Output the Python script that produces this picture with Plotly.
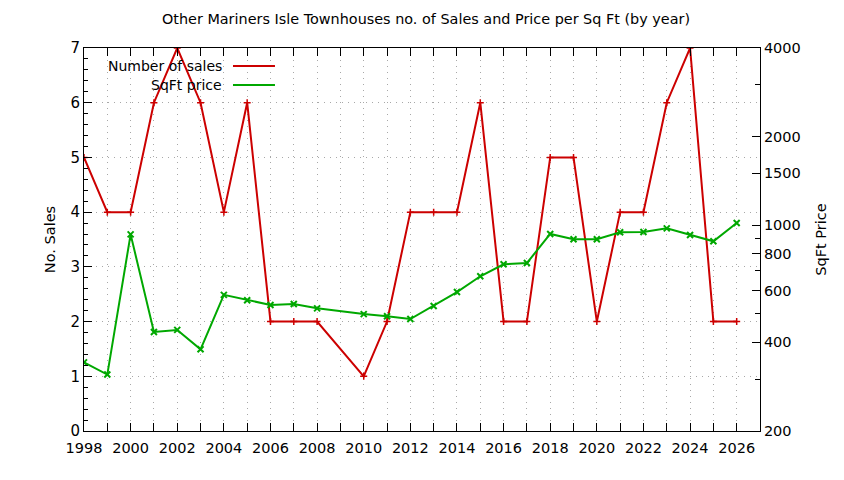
import plotly.graph_objects as go

# datos (2009 no tiene registro)
years = [1998, 1999, 2000, 2001, 2002, 2003, 2004, 2005, 2006, 2007, 2008,
         2010, 2011, 2012, 2013, 2014, 2015, 2016, 2017, 2018, 2019, 2020,
         2021, 2022, 2023, 2024, 2025, 2026]
num_sales = [5, 4, 4, 6, 7, 6, 4, 6, 2, 2, 2,
             1, 2, 4, 4, 4, 6, 2, 2, 5, 5, 2,
             4, 4, 6, 7, 2, 2]
sqft_price = [342, 311, 931, 434, 441, 379, 580, 556, 536, 540, 522,
              499, 491, 480, 532, 593, 671, 737, 744, 934, 896, 896,
              946, 948, 976, 926, 882, 1017]

y2_ticks = [200, 400, 600, 800, 1000, 1500, 2000, 4000]
y2_minor = [300, 500, 700, 900, 3000]

RED = "#CC0000"
GREEN = "#00A800"
FONT = "DejaVu Sans"
GRID = "#A8A8A8"
DOTS = "1px,5px"

fig = go.Figure()
fig.add_trace(go.Scatter(x=years, y=num_sales, mode="lines+markers", name="Number of sales",
                         line=dict(color=RED, width=2),
                         marker=dict(symbol="cross-thin", size=5, line=dict(color=RED, width=1.5))))
fig.add_trace(go.Scatter(x=years, y=sqft_price, mode="lines+markers", name="SqFt price", yaxis="y2",
                         line=dict(color=GREEN, width=2),
                         marker=dict(symbol="x-thin", size=6, line=dict(color=GREEN, width=2))))

# la pagina agrega ~8px de margen al body, se compensa aqui
fig.update_layout(
    width=836, height=472,
    margin=dict(l=76, r=84, t=40, b=49),
    paper_bgcolor="white", plot_bgcolor="white",
    showlegend=False,
    font=dict(family=FONT, size=13, color="black"),
    title=dict(text="Other Mariners Isle Townhouses no. of Sales and Price per Sq Ft (by year)",
               x=0.5, xanchor="center", y=0.977, yanchor="middle", font=dict(size=14.4)),
    xaxis=dict(range=[1998, 2027], tickmode="linear", tick0=1998, dtick=2,
               ticks="inside", ticklen=8, tickcolor="black",
               showline=True, linecolor="black", linewidth=1, mirror="allticks",
               showgrid=True, gridcolor=GRID, griddash=DOTS, gridwidth=1,
               minor=dict(dtick=1, ticks="inside", ticklen=5, tickcolor="black",
                          showgrid=True, gridcolor=GRID, griddash=DOTS),
               zeroline=False, tickfont=dict(size=14.5), ticklabelstandoff=4),
    yaxis=dict(range=[0, 7], tickmode="linear", dtick=1,
               ticks="inside", ticklen=8, tickcolor="black",
               showline=True, linecolor="black", linewidth=1,
               showgrid=True, gridcolor=GRID, griddash=DOTS,
               minor=dict(dtick=0.2, ticks="inside", ticklen=4, tickcolor="black", showgrid=False),
               zeroline=False, tickfont=dict(size=15),
               title=dict(text="No. Sales", standoff=11, font=dict(size=14.5))),
    yaxis2=dict(type="log", range=[2.30103, 3.60206], overlaying="y", side="right",
                tickmode="array", tickvals=y2_ticks, ticktext=[str(v) for v in y2_ticks],
                ticks="inside", ticklen=8, tickcolor="black",
                showline=True, linecolor="black", linewidth=1,
                showgrid=False, zeroline=False,
                minor=dict(tickmode="array", tickvals=y2_minor, ticks="inside", ticklen=5,
                           tickcolor="black", showgrid=False),
                tickfont=dict(size=14.5),
                title=dict(text="SqFt Price", standoff=16, font=dict(size=14.5))),
)

# leyenda estilo gnuplot: texto a la izquierda, muestra de linea a la derecha
legend_rows = [("Number of sales", RED, 0.953), ("SqFt price", GREEN, 0.9034)]
for label, color, yp in legend_rows:
    fig.add_annotation(x=0.207, y=yp, xref="paper", yref="paper", text=label,
                       showarrow=False, xanchor="right", yanchor="middle",
                       font=dict(size=14, color="black"))
    fig.add_shape(type="line", xref="paper", yref="paper", x0=0.2204, x1=0.2825, y0=yp, y1=yp,
                  line=dict(color=color, width=2))

fig.write_html("out.html")
